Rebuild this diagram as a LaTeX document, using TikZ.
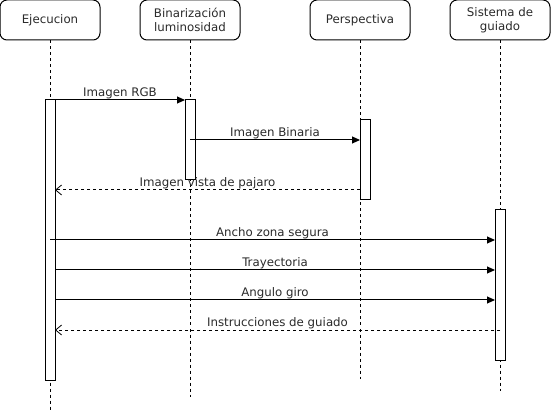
\documentclass[tikz,border=0pt]{standalone}
\usepackage{fontspec}
\setmainfont{DejaVu Sans}
\usetikzlibrary{arrows.meta}
\definecolor{txt}{HTML}{2A2A2A}
\begin{document}
\begin{tikzpicture}[x=1pt,y=-1pt,
  actor/.style={draw,rounded corners=7pt,minimum width=100pt,minimum height=40pt,inner sep=0pt,align=center,font=\fontsize{11.8}{14}\selectfont,text=txt,line width=1pt},
  life/.style={dash pattern=on 3pt off 3pt,line width=1pt},
  act/.style={draw,fill=white,line width=1pt,minimum width=10pt,inner sep=0pt},
  msg/.style={line width=1pt,-{Triangle[length=8pt,width=7pt]}},
  ret/.style={line width=1pt,dash pattern=on 3pt off 3pt,-{Straight Barb[length=6pt,width=10pt,line width=0.8pt]}},
  lbl/.style={font=\fontsize{11.8}{14}\selectfont,text=txt,inner sep=1pt,anchor=south}]
\useasboundingbox (0,0) rectangle (551,411);
% actors
\node[actor] (ej) at (50,20) {Ejecucion};
\node[actor] (bi) at (190,20) {Binarización\\luminosidad};
\node[actor] (pe) at (360,20) {Perspectiva};
\node[actor] (si) at (500,20) {Sistema de\\guiado};
% lifeline ends
\coordinate (ejE) at (50,410);
\coordinate (biE) at (190,397);
\coordinate (peE) at (360,379);
\coordinate (siE) at (500,391);
\draw[life] (ej.south) -- (ejE);
\draw[life] (bi.south) -- (biE);
\draw[life] (pe.south) -- (peE);
\draw[life] (si.south) -- (siE);
% activations
\node[act,minimum height=280pt] (aej) at (50,240) {};
\node[act,minimum height=80pt] (abi) at (190,140) {};
\node[act,minimum height=80pt] (ape) at (365,160) {};
\node[act,minimum height=150pt] (asi) at (500,285) {};
% message anchors
\coordinate (m1a) at (55,100); \coordinate (m1b) at (185,100);
\coordinate (m2a) at (190,140); \coordinate (m2b) at (360,140);
\coordinate (m3a) at (360,190); \coordinate (m3b) at (55,190);
\coordinate (m4a) at (50,240); \coordinate (m4b) at (495,240);
\coordinate (m5a) at (55,270); \coordinate (m5b) at (495,270);
\coordinate (m6a) at (55,300); \coordinate (m6b) at (495,300);
\coordinate (m7a) at (500,330); \coordinate (m7b) at (55,330);
\draw[msg] (m1a) -- node[lbl] {Imagen RGB} (m1b);
\draw[msg] (m2a) -- node[lbl] {Imagen Binaria} (m2b);
\draw[ret] (m3a) -- node[lbl] {Imagen vista de pajaro} (m3b);
\draw[msg] (m4a) -- node[lbl] {Ancho zona segura} (m4b);
\draw[msg] (m5a) -- node[lbl] {Trayectoria} (m5b);
\draw[msg] (m6a) -- node[lbl] {Angulo giro} (m6b);
\draw[ret] (m7a) -- node[lbl] {Instrucciones de guiado} (m7b);
\end{tikzpicture}
\end{document}
